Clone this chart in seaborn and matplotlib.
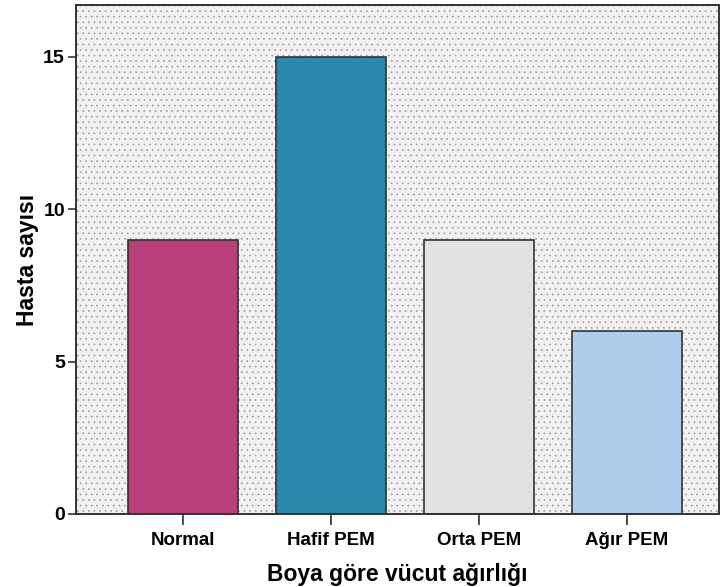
import matplotlib
matplotlib.use("Agg")
import matplotlib.pyplot as plt
import seaborn as sns
import pandas as pd
from matplotlib.patches import Rectangle

categories = ["Normal", "Hafif PEM", "Orta PEM", "Ağır PEM"]
counts = [9, 15, 9, 6]
colors = ["#BA3E7A", "#2A89AB", "#E2E2E2", "#ACCDEB"]
y_ticks = [0, 5, 10, 15]

sns.set_theme(style="white")
plt.rcParams['font.family'] = ['Liberation Sans', 'DejaVu Sans']
plt.rcParams['hatch.linewidth'] = 0.6
plt.rcParams['text.color'] = 'black'
plt.rcParams['axes.labelcolor'] = 'black'
plt.rcParams['xtick.color'] = 'black'
plt.rcParams['ytick.color'] = 'black'

df = pd.DataFrame({"cat": categories, "n": counts})

fig = plt.figure(figsize=(7.22, 5.87), dpi=100)
ax = fig.add_axes([0.1053, 0.1244, 0.8905, 0.8671])
ax.set_facecolor("#F1F1F1")
bg = Rectangle((0, 0), 1, 1, transform=ax.transAxes, facecolor="none",
               edgecolor="#A8A8A8", hatch="...", linewidth=0, zorder=0)
ax.add_patch(bg)

sns.barplot(data=df, x="cat", y="n", hue="cat", palette=colors, legend=False,
            saturation=1, width=0.743, edgecolor="#333333", linewidth=1.2,
            ax=ax, zorder=2)

ax.set_xlim(-0.72, 3.62)
ax.set_ylim(0, 16.7)
ax.set_yticks(y_ticks)
ax.set_yticklabels([str(t) for t in y_ticks])
ax.set_xlabel("Boya göre vücut ağırlığı", fontsize=16.5, fontweight="bold", labelpad=10)
ax.set_ylabel("Hasta sayısı", fontsize=16.5, fontweight="bold", labelpad=3)
ax.tick_params(axis="x", labelsize=13.5, length=8, width=1.2, color="#333333", direction="out", bottom=True, pad=5)
ax.tick_params(axis="y", labelsize=14, length=6, width=1.2, color="#333333", direction="out", left=True, pad=2)
for lbl in ax.get_xticklabels() + ax.get_yticklabels():
    lbl.set_fontweight("bold")
for s in ax.spines.values():
    s.set_color("#333333")
    s.set_linewidth(1.4)

fig.savefig("out.png", dpi=100)
